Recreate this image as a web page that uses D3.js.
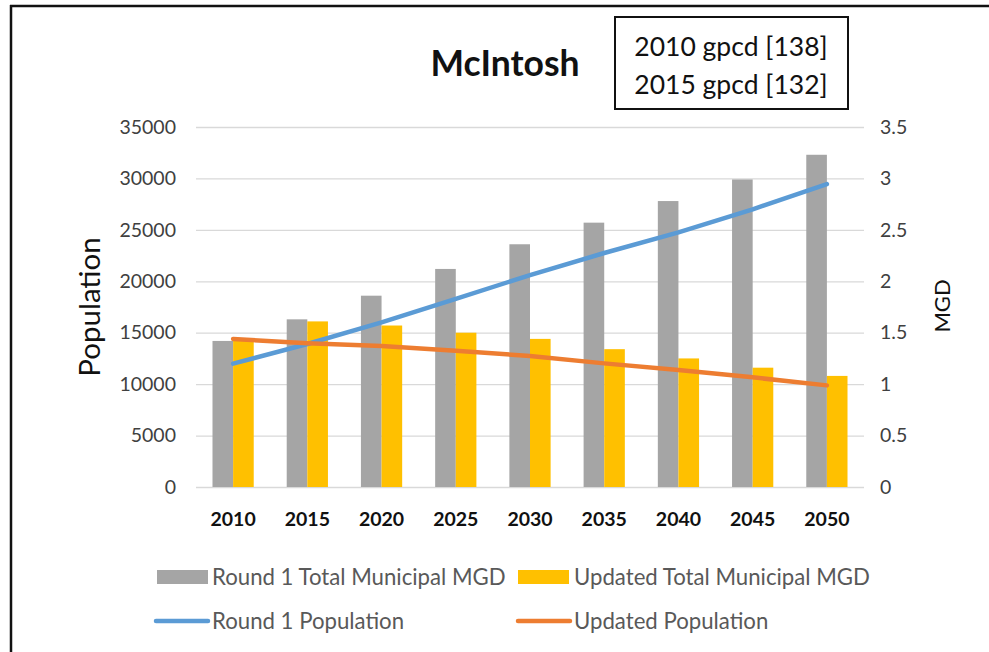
<!DOCTYPE html>
<html>
<head>
<meta charset="utf-8">
<script src="https://cdn.jsdelivr.net/npm/d3@7/dist/d3.min.js"></script>
<style>
  html, body { margin: 0; padding: 0; background: #fff; }
  svg { display: block; font-family: Lato, "Open Sans", sans-serif; }
</style>
</head>
<body>
<svg id="chart" width="989" height="652"></svg>
<script>
// Planning periods
const years = ["2010", "2015", "2020", "2025", "2030", "2035", "2040", "2045", "2050"];
// Municipal demand, million gallons per day (right axis)
const round1Mgd  = [1.42, 1.63, 1.86, 2.12, 2.36, 2.57, 2.78, 2.99, 3.23];
const updatedMgd = [1.44, 1.61, 1.57, 1.50, 1.44, 1.34, 1.25, 1.16, 1.08];
// Population projections (left axis)
const round1Pop  = [11990, 13900, 16000, 18300, 20600, 22750, 24750, 27000, 29450];
const updatedPop = [14390, 13970, 13700, 13250, 12740, 12020, 11370, 10660, 9880];
// Axis ticks
const popTicks = [0, 5000, 10000, 15000, 20000, 25000, 30000, 35000];
const mgdTicks = [0, 0.5, 1, 1.5, 2, 2.5, 3, 3.5];
// Annotation text
const chartTitle = "McIntosh";
const gpcdNotes = ["2010 gpcd [138]", "2015 gpcd [132]"];
const legendItems = [
  { label: "Round 1 Total Municipal MGD", kind: "bar",  color: "#A5A5A5" },
  { label: "Updated Total Municipal MGD", kind: "bar",  color: "#FFC000" },
  { label: "Round 1 Population",          kind: "line", color: "#5B9BD5" },
  { label: "Updated Population",          kind: "line", color: "#ED7D31" }
];

const svg = d3.select("#chart");
const plot = { left: 196, right: 864, top: 127, bottom: 487 };

const x = d3.scaleBand().domain(years).range([plot.left, plot.right]);
const yPop = d3.scaleLinear().domain([0, 35000]).range([plot.bottom, plot.top]);
const yMgd = d3.scaleLinear().domain([0, 3.5]).range([plot.bottom, plot.top]);

// Excel-style clustered bars: 80% gap width
const groupW = x.bandwidth() / 1.8;
const barX = d3.scaleBand().domain([0, 1]).range([-groupW / 2, groupW / 2]);

// Frame (top and left edges)
svg.append("line").attr("x1", 10).attr("x2", 989).attr("y1", 6).attr("y2", 6)
  .attr("stroke", "#111").attr("stroke-width", 2.5);
svg.append("line").attr("x1", 11).attr("x2", 11).attr("y1", 5).attr("y2", 652)
  .attr("stroke", "#111").attr("stroke-width", 2.5);

// Gridlines
svg.append("g").selectAll("line").data(popTicks).join("line")
  .attr("x1", plot.left).attr("x2", plot.right)
  .attr("y1", d => yPop(d) + 0.5).attr("y2", d => yPop(d) + 0.5)
  .attr("stroke", "#D9D9D9").attr("stroke-width", 1.3);

// Left axis (population)
const leftAxis = svg.append("g").attr("transform", `translate(${plot.left - 20},0)`)
  .call(d3.axisLeft(yPop).tickValues(popTicks).tickSize(0).tickPadding(0).tickFormat(d3.format("d")));
leftAxis.select(".domain").remove();
leftAxis.selectAll("text").attr("font-size", 19.5).attr("fill", "#404040")
  .attr("font-family", "Lato, sans-serif");

// Right axis (MGD)
const rightAxis = svg.append("g").attr("transform", `translate(${plot.right + 16},0)`)
  .call(d3.axisRight(yMgd).tickValues(mgdTicks).tickSize(0).tickPadding(0).tickFormat(d => String(d)));
rightAxis.select(".domain").remove();
rightAxis.selectAll("text").attr("font-size", 19.5).attr("fill", "#404040")
  .attr("font-family", "Lato, sans-serif");

// Bottom axis (years)
const bottomAxis = svg.append("g").attr("transform", `translate(0,${plot.bottom})`)
  .call(d3.axisBottom(x).tickSize(0).tickPadding(0));
bottomAxis.select(".domain").remove();
bottomAxis.selectAll("text").attr("font-size", 19.5).attr("font-weight", "bold")
  .attr("fill", "#111").attr("dy", null).attr("y", 39)
  .attr("font-family", "Lato, sans-serif");

// Bars
const bars = svg.append("g");
bars.selectAll(".r1").data(years).join("rect")
  .attr("x", d => x(d) + x.bandwidth() / 2 + barX(0))
  .attr("width", barX.bandwidth())
  .attr("y", (d, i) => yMgd(round1Mgd[i]))
  .attr("height", (d, i) => yMgd(0) - yMgd(round1Mgd[i]))
  .attr("fill", legendItems[0].color);
bars.selectAll(".up").data(years).join("rect")
  .attr("x", d => x(d) + x.bandwidth() / 2 + barX(1))
  .attr("width", barX.bandwidth())
  .attr("y", (d, i) => yMgd(updatedMgd[i]))
  .attr("height", (d, i) => yMgd(0) - yMgd(updatedMgd[i]))
  .attr("fill", legendItems[1].color);

// Population lines
const line = d3.line()
  .x((d, i) => x(years[i]) + x.bandwidth() / 2)
  .y(d => yPop(d));
svg.append("path").datum(round1Pop).attr("d", line)
  .attr("fill", "none").attr("stroke", legendItems[2].color)
  .attr("stroke-width", 4.5).attr("stroke-linecap", "round").attr("stroke-linejoin", "round");
svg.append("path").datum(updatedPop).attr("d", line)
  .attr("fill", "none").attr("stroke", legendItems[3].color)
  .attr("stroke-width", 4.5).attr("stroke-linecap", "round").attr("stroke-linejoin", "round");

// Axis titles
svg.append("text").attr("transform", "translate(100,307) rotate(-90)")
  .attr("text-anchor", "middle").attr("font-size", 29.5).attr("fill", "#111")
  .text("Population");
svg.append("text").attr("transform", "translate(950,306) rotate(-90)")
  .attr("text-anchor", "middle").attr("font-size", 22).attr("fill", "#111")
  .text("MGD");

// Title
svg.append("text").attr("x", 505).attr("y", 76).attr("text-anchor", "middle")
  .attr("font-size", 35.5).attr("font-weight", "bold").attr("fill", "#111")
  .text(chartTitle);

// gpcd note box
svg.append("rect").attr("x", 615).attr("y", 17).attr("width", 233).attr("height", 92)
  .attr("fill", "#fff").attr("stroke", "#111").attr("stroke-width", 2);
svg.append("g").selectAll("text").data(gpcdNotes).join("text")
  .attr("x", 731).attr("y", (d, i) => 56 + i * 38).attr("text-anchor", "middle")
  .attr("font-size", 26.5).attr("fill", "#111").text(d => d);

// Legend
const legendPos = [
  { sx: 157, tx: 212, y: 577 },
  { sx: 518, tx: 574, y: 577 },
  { sx: 154, tx: 212, y: 621 },
  { sx: 516, tx: 574, y: 621 }
];
const lg = svg.append("g").selectAll("g").data(legendItems).join("g");
lg.each(function (d, i) {
  const g = d3.select(this), p = legendPos[i];
  if (d.kind === "bar") {
    g.append("rect").attr("x", p.sx).attr("y", p.y - 7).attr("width", 51).attr("height", 14)
      .attr("fill", d.color);
  } else {
    g.append("line").attr("x1", p.sx + 2).attr("x2", p.tx - 4).attr("y1", p.y).attr("y2", p.y)
      .attr("stroke", d.color).attr("stroke-width", 4.5).attr("stroke-linecap", "round");
  }
  g.append("text").attr("x", p.tx).attr("y", p.y).attr("dy", "0.35em")
    .attr("font-size", 22.2).attr("fill", "#595959").text(d.label);
});
</script>
</body>
</html>
